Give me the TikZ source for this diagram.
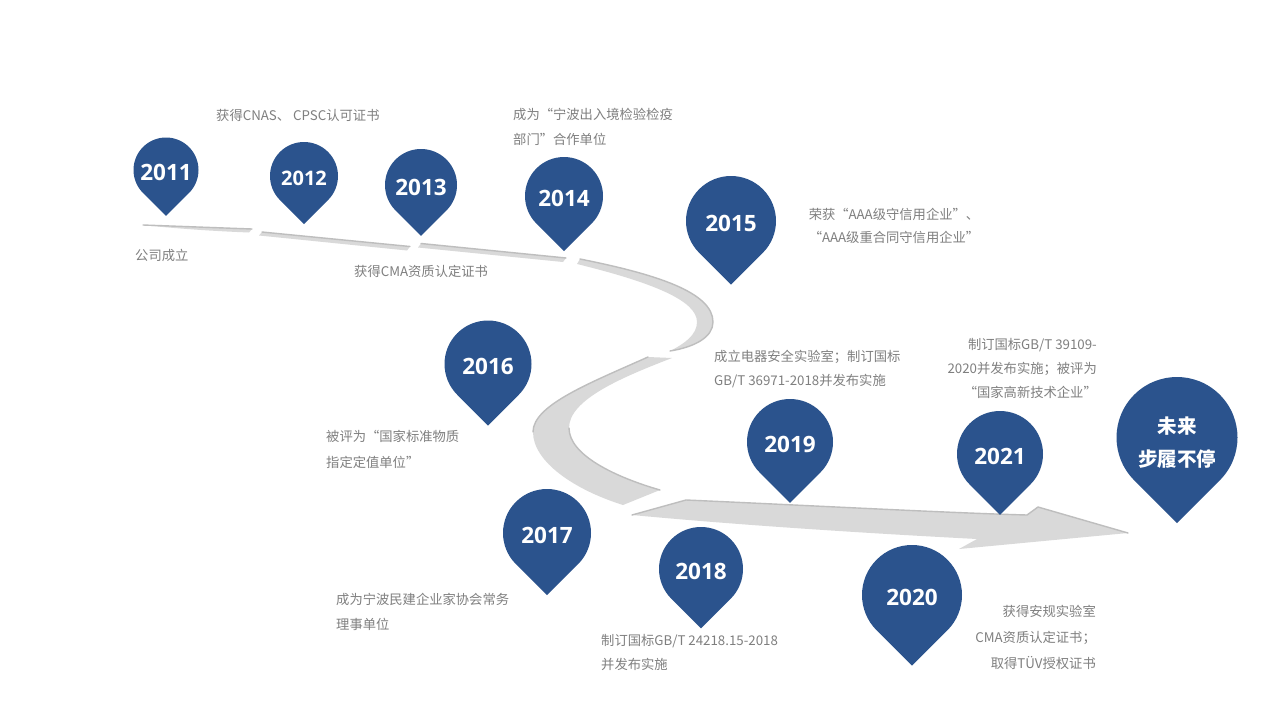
\documentclass[tikz,border=0pt]{standalone}
\usepackage{fontspec}
\setmainfont{Noto Sans CJK SC}
\newfontfamily\yearfont{Open Sans}
\definecolor{pinblue}{RGB}{43,83,141}
\definecolor{txtgray}{RGB}{127,127,127}
\definecolor{ribbon}{RGB}{217,217,217}
\definecolor{ribbonedge}{RGB}{190,190,190}
\tikzset{
  note/.style={text=txtgray, font=\fontsize{13.3}{25}\selectfont, inner sep=0pt},
  yr/.style={text=white, font=\yearfont\bfseries\fontsize{22.5}{22.5}\selectfont, inner sep=0pt},
  yrsmall/.style={yr, font=\yearfont\bfseries\fontsize{20}{20}\selectfont},
  pinfill/.style={fill=pinblue},
  band/.style={fill=ribbon},
  bandedge/.style={draw=ribbonedge, line width=1.4pt, line cap=round, line join=round},
}
% \drawpin[label style]{name}{cx}{cy}{r}{label}
\newcommand\drawpin[6][yr]{%
  \fill[pinfill] ({#3+#5*cos(45)},{#4+#5*sin(45)}) arc[start angle=45,end angle=-225,radius=#5] -- (#3,{#4+1.41421*#5}) -- cycle;
  \node[#1] (#2) at (#3,{#4+2}) {#6};
}
\begin{document}
\begin{tikzpicture}[x=1pt,y=-1pt]
\useasboundingbox (0,0) rectangle (1280,720);
\fill[white] (0,0) rectangle (1280,720);

% ---- ribbon ----
% segment 1
\fill[band] (143,225) -- (252,229) -- (249,232.5) .. controls (210,231) and (170,228) .. (143,225) -- cycle;
\draw[bandedge] (143,225) -- (252,229);
% segment 2
\fill[band] (262,232) -- (410,246.5) -- (407,250.5) -- (259,235.5) -- cycle;
\draw[bandedge] (262,232) -- (410,246.5);
% segment 3
\fill[band] (421,243.5) -- (566,258) -- (563,262) -- (418,247.5) -- cycle;
\draw[bandedge] (421,243.5) -- (566,258);
% segment 4
\fill[band] (580,259) .. controls (655,274) and (713,292) .. (713,322)
  .. controls (713,337) and (695,347) .. (670,351)
  .. controls (684,344) and (697,335) .. (697,322)
  .. controls (697,300) and (650,282) .. (577,264) -- cycle;
\draw[bandedge] (580,259) .. controls (655,274) and (713,292) .. (713,322)
  .. controls (713,337) and (695,347) .. (670,351);
% segment 5
\fill[band] (648,357) .. controls (590,383) and (533,405) .. (533,432)
  .. controls (533,462) and (575,490) .. (623,505) -- (660,490)
  .. controls (615,477) and (569,455) .. (569,428)
  .. controls (569,400) and (620,378) .. (672,358) -- cycle;
\draw[bandedge] (648,357) .. controls (590,383) and (533,405) .. (533,432);
\draw[bandedge] (660,490) .. controls (615,477) and (569,455) .. (569,428);
% segment 6 (arrow)
\fill[band] (632,515) -- (686,500) .. controls (800,505) and (950,513) .. (1027,515)
  -- (1038,507) -- (1128,533) -- (959,549) -- (977,539)
  .. controls (900,535) and (760,527) .. (632,515) -- cycle;
\draw[bandedge] (632,515) -- (686,500) .. controls (800,505) and (950,513) .. (1027,515)
  -- (1038,507) -- (1128,533);

% ---- pins ----
\drawpin{p2011}{166}{170}{32.5}{2011}
\drawpin[yrsmall]{p2012}{304}{176}{34}{2012}
\drawpin{p2013}{421}{185}{36}{2013}
\drawpin{p2014}{564}{196}{39}{2014}
\drawpin{p2015}{731}{221}{45}{2015}
\drawpin{p2016}{488}{364}{43.5}{2016}
\drawpin{p2017}{547}{533}{44}{2017}
\drawpin{p2018}{701}{569}{42}{2018}
\drawpin{p2019}{790}{442}{43}{2019}
\drawpin{p2020}{912}{595}{50}{2020}
\drawpin{p2021}{1000}{454}{43}{2021}
\fill[pinfill] ({1177+60.5*cos(45)},{437.5+60.5*sin(45)}) arc[start angle=45,end angle=-225,radius=60.5] -- (1177,{437.5+1.41421*60.5}) -- cycle;
\node[text=white, font=\bfseries\fontsize{19.5}{33}\selectfont, align=center, inner sep=0pt] (future) at (1177,442.5) {未来\\步履不停};

% ---- notes ----
\node[note, anchor=west] (t2011) at (135,255) {公司成立};
\node[note, anchor=west] (t2012) at (216,115) {获得CNAS、 CPSC认可证书};
\node[note, anchor=west] (t2013) at (354,271.5) {获得CMA资质认定证书};
\node[note, anchor=north west, align=left] (t2014) at (513,108.5) {成为“宁波出入境检验检疫\\部门”合作单位};
\node[note, anchor=north, align=center, font=\fontsize{13.3}{23}\selectfont] (t2015) at (894,208.5) {荣获“AAA级守信用企业”、\\“AAA级重合同守信用企业”};
\node[note, anchor=north west, align=left, font=\fontsize{13.3}{26}\selectfont] (t2016) at (326,430.5) {被评为“国家标准物质\\指定定值单位”};
\node[note, anchor=north west, align=left] (t2017) at (336,593.5) {成为宁波民建企业家协会常务\\理事单位};
\node[note, anchor=north west, align=left, font=\fontsize{13.3}{24}\selectfont] (t2018) at (601,634.5) {制订国标GB/T 24218.15-2018\\并发布实施};
\node[note, anchor=north west, align=left, font=\fontsize{13.3}{24}\selectfont] (t2019) at (714,349.5) {成立电器安全实验室；制订国标\\GB/T 36971-2018并发布实施};
\node[note, anchor=north east, align=right, font=\fontsize{13.3}{26}\selectfont] (t2020) at (1096,604.5) {获得安规实验室\\CMA资质认定证书；\\取得TÜV授权证书};
\node[note, anchor=north east, align=right, font=\fontsize{13.3}{24}\selectfont] (t2021) at (1097,338.5) {制订国标GB/T 39109-\\2020并发布实施；被评为\\“国家高新技术企业”};
\end{tikzpicture}
\end{document}
